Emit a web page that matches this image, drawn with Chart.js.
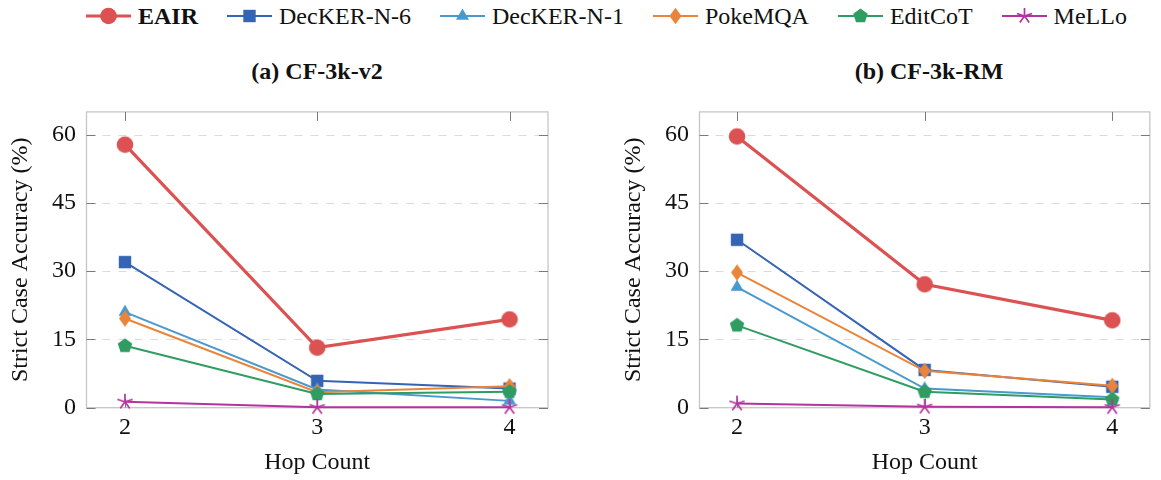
<!DOCTYPE html>
<html>
<head>
<meta charset="utf-8">
<script src="https://cdn.jsdelivr.net/npm/chart.js@4"></script>
<style>
body { margin: 0; background: #fff; width: 1161px; height: 480px; position: relative; overflow: hidden; font-family: "Liberation Serif", "Times New Roman", serif; color: #111; }
#legend { position: absolute; left: 86px; top: 2px; height: 28px; display: flex; align-items: center; font-size: 24px; white-space: nowrap; }
.item { display: flex; align-items: center; margin-right: 29px; }
.item canvas { margin-right: 7px; }
.ptitle { position: absolute; top: 58px; font-size: 24px; font-weight: bold; transform: translateX(-50%); white-space: nowrap; }
.box { position: absolute; top: 87px; }
</style>
</head>
<body>
<div id="legend"></div>
<div class="ptitle" style="left:317px">(a) CF-3k-v2</div>
<div class="ptitle" style="left:929px">(b) CF-3k-RM</div>
<canvas id="chartA" class="box" style="left:0px" width="560" height="393"></canvas>
<canvas id="chartB" class="box" style="left:613px" width="548" height="393"></canvas>
<script>
const hops = [2, 3, 4];
const yTicks = [0, 15, 30, 45, 60];
const methods = ['EAIR', 'DecKER-N-6', 'DecKER-N-1', 'PokeMQA', 'EditCoT', 'MeLLo'];
const colors = ['#dc5151', '#3564b4', '#4899cd', '#e9843a', '#2f9c62', '#b3339f'];
const shapes = ['circle', 'square', 'triangle', 'diamond', 'pentagon', 'asterisk'];

// (a) CF-3k-v2
const v2_eair = [57.8, 13.2, 19.4];
const v2_decker6 = [32.0, 5.9, 4.2];
const v2_decker1 = [21.0, 4.0, 1.5];
const v2_pokemqa = [19.6, 3.4, 4.7];
const v2_editcot = [13.6, 3.0, 3.5];
const v2_mello = [1.3, 0.1, 0.1];

// (b) CF-3k-RM
const rm_eair = [59.6, 27.1, 19.2];
const rm_decker6 = [36.9, 8.3, 4.6];
const rm_decker1 = [26.5, 4.2, 2.3];
const rm_pokemqa = [29.7, 8.1, 4.8];
const rm_editcot = [18.1, 3.5, 1.8];
const rm_mello = [0.9, 0.2, 0.1];

const serif = '"Liberation Serif", "Times New Roman", serif';

function drawMarker(ctx, shape, cx, cy, color) {
  ctx.save();
  ctx.fillStyle = color;
  ctx.strokeStyle = color;
  ctx.beginPath();
  if (shape === 'circle') {
    ctx.arc(cx, cy, 8.3, 0, Math.PI * 2);
    ctx.fill();
  } else if (shape === 'square') {
    ctx.rect(cx - 6.2, cy - 6.2, 12.4, 12.4);
    ctx.fill();
  } else if (shape === 'triangle') {
    for (let k = 0; k < 3; k++) {
      const a = -Math.PI / 2 + k * 2 * Math.PI / 3;
      ctx.lineTo(cx + 7.5 * Math.cos(a), cy + 7.5 * Math.sin(a));
    }
    ctx.closePath();
    ctx.fill();
  } else if (shape === 'diamond') {
    ctx.moveTo(cx, cy - 8.3);
    ctx.lineTo(cx + 6, cy);
    ctx.lineTo(cx, cy + 8.3);
    ctx.lineTo(cx - 6, cy);
    ctx.closePath();
    ctx.fill();
  } else if (shape === 'pentagon') {
    for (let k = 0; k < 5; k++) {
      const a = -Math.PI / 2 + k * 2 * Math.PI / 5;
      ctx.lineTo(cx + 7.6 * Math.cos(a), cy + 7.6 * Math.sin(a));
    }
    ctx.closePath();
    ctx.fill();
  } else if (shape === 'asterisk') {
    ctx.lineWidth = 1.7;
    for (let k = 0; k < 5; k++) {
      const a = -Math.PI / 2 + k * 2 * Math.PI / 5;
      ctx.moveTo(cx, cy);
      ctx.lineTo(cx + 8 * Math.cos(a), cy + 8 * Math.sin(a));
    }
    ctx.stroke();
  }
  ctx.restore();
}

const markerImgs = shapes.map((s, i) => {
  const c = document.createElement('canvas');
  c.width = 22; c.height = 22;
  drawMarker(c.getContext('2d'), s, 11, 11, colors[i]);
  return c;
});

// legend
const legend = document.getElementById('legend');
methods.forEach((m, i) => {
  const item = document.createElement('div');
  item.className = 'item';
  const c = document.createElement('canvas');
  c.width = 45; c.height = 22;
  const ctx = c.getContext('2d');
  ctx.strokeStyle = colors[i];
  ctx.lineWidth = i === 0 ? 3.2 : 2;
  ctx.beginPath(); ctx.moveTo(0, 11); ctx.lineTo(45, 11); ctx.stroke();
  drawMarker(ctx, shapes[i], 22.5, 11, colors[i]);
  const span = document.createElement('span');
  span.textContent = m;
  if (i === 0) span.style.fontWeight = 'bold';
  item.appendChild(c);
  item.appendChild(span);
  legend.appendChild(item);
});

// pgfplots-like box: dashed grid, light frame, inward ticks on every side
const framePlugin = {
  id: 'frame',
  beforeDatasetsDraw(chart) {
    const {ctx, chartArea: a, scales: {x, y}} = chart;
    ctx.save();
    ctx.strokeStyle = '#dadada';
    ctx.lineWidth = 1;
    ctx.setLineDash([8, 8]);
    yTicks.forEach(v => {
      if (v === 0) return;
      const py = Math.round(y.getPixelForValue(v)) + 0.5;
      ctx.beginPath(); ctx.moveTo(a.left, py); ctx.lineTo(a.right, py); ctx.stroke();
    });
    ctx.setLineDash([]);
    ctx.strokeStyle = '#c6c6c6';
    ctx.lineWidth = 1.3;
    ctx.strokeRect(a.left, a.top, a.right - a.left, a.bottom - a.top);
    ctx.strokeStyle = '#7a7a7a';
    ctx.lineWidth = 1;
    yTicks.forEach(v => {
      const py = Math.round(y.getPixelForValue(v)) + 0.5;
      ctx.beginPath();
      ctx.moveTo(a.left, py); ctx.lineTo(a.left + 9, py);
      ctx.moveTo(a.right, py); ctx.lineTo(a.right - 9, py);
      ctx.stroke();
    });
    hops.forEach(v => {
      const px = Math.round(x.getPixelForValue(v)) + 0.5;
      ctx.beginPath();
      ctx.moveTo(px, a.top); ctx.lineTo(px, a.top + 9);
      ctx.moveTo(px, a.bottom); ctx.lineTo(px, a.bottom - 9);
      ctx.stroke();
    });
    ctx.restore();
  }
};

function makeChart(id, values, padRight) {
  const canvas = document.getElementById(id);
  return new Chart(canvas.getContext('2d'), {
    type: 'line',
    data: {
      datasets: methods.map((m, i) => ({
        label: m,
        data: hops.map((h, j) => ({x: h, y: values[i][j]})),
        borderColor: colors[i],
        backgroundColor: colors[i],
        borderWidth: i === 0 ? 3.2 : 2,
        pointStyle: markerImgs[i],
        pointRadius: 8,
        tension: 0,
        clip: false,
        order: methods.length - i
      }))
    },
    options: {
      responsive: false,
      animation: false,
      layout: {padding: {top: 0, right: padRight, left: 0, bottom: 0}},
      plugins: {legend: {display: false}, tooltip: {enabled: false}},
      scales: {
        x: {
          type: 'linear', min: 1.8, max: 4.2,
          afterBuildTicks: s => { s.ticks = hops.map(v => ({value: v})); },
          afterFit: s => { s.height = 72.3; },
          grid: {display: false, drawTicks: false},
          border: {display: false},
          ticks: {padding: 6, color: '#111', font: {family: serif, size: 24}},
          title: {display: true, text: 'Hop Count', color: '#111', font: {family: serif, size: 24}, padding: {top: 0, bottom: 2.6}}
        },
        y: {
          min: 0, max: 65,
          afterBuildTicks: s => { s.ticks = yTicks.map(v => ({value: v})); },
          afterFit: s => { s.width = 86.5; },
          grid: {display: false, drawTicks: false},
          border: {display: false},
          ticks: {padding: 10.5, color: '#111', font: {family: serif, size: 24}},
          title: {display: true, text: 'Strict Case Accuracy (%)', color: '#111', font: {family: serif, size: 24}, padding: {top: 6.6, bottom: 0}}
        }
      }
    },
    plugins: [framePlugin]
  });
}

makeChart('chartA', [v2_eair, v2_decker6, v2_decker1, v2_pokemqa, v2_editcot, v2_mello], 12);
makeChart('chartB', [rm_eair, rm_decker6, rm_decker1, rm_pokemqa, rm_editcot, rm_mello], 1);
</script>
</body>
</html>
